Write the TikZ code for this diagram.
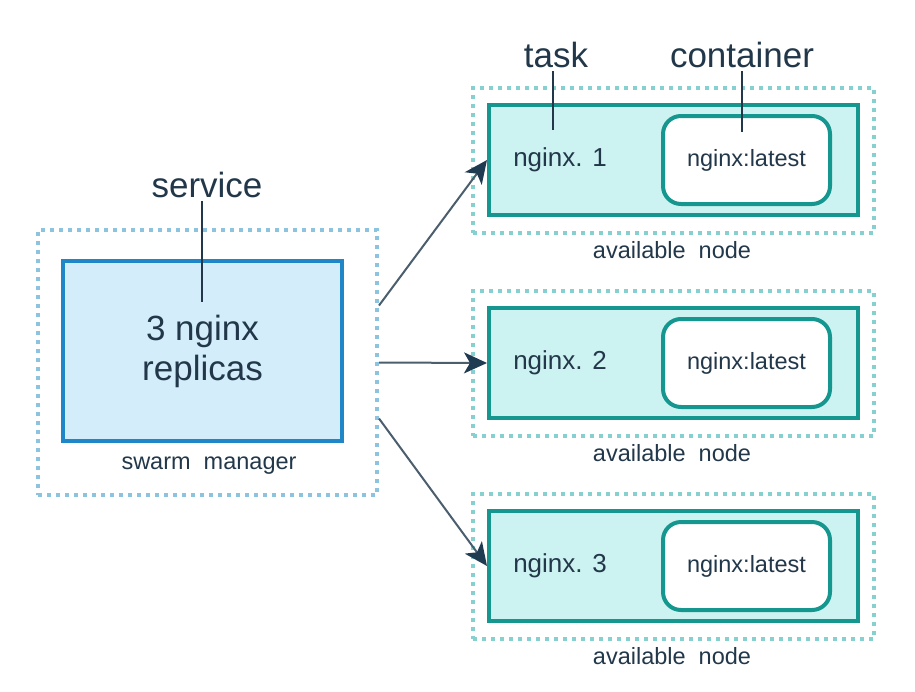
\documentclass[tikz,border=0pt]{standalone}
\usepackage{fontspec}
\setmainfont{Liberation Sans}
\usetikzlibrary{arrows.meta}
\definecolor{textcol}{HTML}{22384A}
\definecolor{mgrfill}{HTML}{D3EDFB}
\definecolor{mgrline}{HTML}{1F86C8}
\definecolor{mgrdots}{HTML}{8CC4E0}
\definecolor{wrkfill}{HTML}{CCF3F1}
\definecolor{wrkline}{HTML}{15968F}
\definecolor{wrkdots}{HTML}{86D0CF}
\definecolor{arrcol}{HTML}{4A5E6E}
\definecolor{arrhead}{HTML}{1F3B52}
\newcommand{\fontbig}{\fontsize{35}{40}\selectfont}
\newcommand{\fontmid}{\fontsize{26}{30}\selectfont}
\newcommand{\fontsml}{\fontsize{23.5}{28}\selectfont}
\tikzset{
  every node/.style={text=textcol},
  dotbox/.style={draw, line width=4pt, dash pattern=on 4pt off 5pt,
    inner sep=0pt},
  mgrbox/.style={draw=mgrline, fill=mgrfill, line width=4pt, inner sep=0pt,
    minimum width=279pt, minimum height=180pt, align=center, font=\fontbig},
  wrkbox/.style={draw=wrkline, fill=wrkfill, line width=4pt, inner sep=0pt,
    minimum width=369pt, minimum height=110pt},
  ctrbox/.style={draw=wrkline, fill=white, line width=4pt, rounded corners=18pt,
    minimum width=167pt, minimum height=88pt, font=\fontsml},
  lead/.style={line width=1.5pt, textcol},
  arr/.style={-{Stealth[length=23pt, width=21pt, inset=6pt, color=arrhead]},
    line width=2pt, arrcol}
}

\begin{document}
\begin{tikzpicture}[x=1pt, y=-1pt]

  \useasboundingbox (0,0) rectangle (915,691);

  % Swarm manager.
  \node[dotbox, draw=mgrdots, minimum width=339pt, minimum height=265pt]
    (mgrout) at (207.5,362.5) {};
  \node[mgrbox] (mgr) at (202.5,351) {3 nginx\\replicas};
  \node[font=\fontsml] (mgrlab) at (209,466) {swarm\ \ manager};

  % Service label.
  \node[font=\fontbig] (svclab) at (207,185) {service};
  \coordinate (svcend) at (202,302);
  \draw[lead] (svcend |- svclab.south) -- (svcend);

  % Available nodes.
  \foreach \i/\y in {1/160,2/363,3/566} {
    \node[dotbox, draw=wrkdots, minimum width=401pt, minimum height=145pt]
      (wrk\i) at (673.5,\y) {};
    \node[wrkbox] (task\i) at (673.5,\y) {};
    \node[font=\fontmid] (tname\i) at (560,\y) {nginx. \i};
    \node[ctrbox] (ctr\i) at (746.5,\y) {nginx:latest};
    \node[font=\fontsml] (avail\i) at (672,\y+90) {available\ \ node};
  }

  % Task and container labels.
  \node[font=\fontbig] (tasklab) at (556,55) {task};
  \node[font=\fontbig] (ctrlab) at (742,55) {container};
  \coordinate (taskend) at (553,130);
  \coordinate (ctrend) at (742,132);
  \draw[lead] (taskend |- tasklab.south) -- (taskend);
  \draw[lead] (ctrend |- ctrlab.south) -- (ctrend);

  % Scheduling arrows.
  \foreach \i/\dy in {1/57,2/0,3/-56} {
    \draw[arr] ([yshift=\dy pt]mgrout.east) -- (task\i.west);
  }

\end{tikzpicture}
\end{document}
